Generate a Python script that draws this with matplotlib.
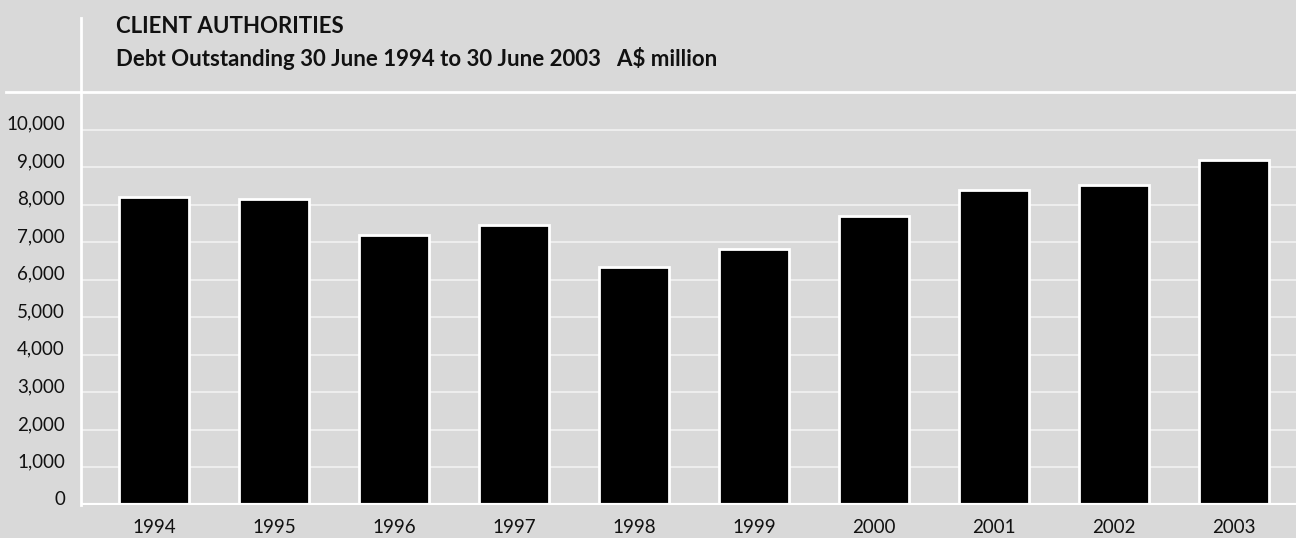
import matplotlib.pyplot as plt
from matplotlib.lines import Line2D

# debt outstanding at 30 June, A$ million
years = ["1994", "1995", "1996", "1997", "1998", "1999", "2000", "2001", "2002", "2003"]
debt = [8210, 8150, 7180, 7470, 6330, 6830, 7700, 8400, 8510, 9200]
yticks = list(range(0, 11000, 1000))

bg = "#d9d9d9"
plt.rcParams["font.family"] = ["Lato", "DejaVu Sans"]

fig = plt.figure(figsize=(12.96, 5.38), dpi=100, facecolor=bg)
W, H = 1296, 538
ax = fig.add_axes([81 / W, (H - 505) / H, 1 - 81 / W, (505 - 92) / H], facecolor=bg)

x = list(range(len(years)))
ax.bar(x, debt, width=70 / 120, color="black", edgecolor="white", linewidth=2, zorder=3)

ax.set_xlim(-(154 - 81) / 120, (1296 - 154) / 120)
ax.set_ylim(0, 11000)
for v in yticks[1:]:
    ax.axhline(v, color="#f2f2f2", linewidth=1.2, zorder=1)
ax.axhline(0, color="white", linewidth=3, zorder=4)

for s in ax.spines.values():
    s.set_visible(False)
ax.set_yticks([])
ax.set_xticks(x)
ax.set_xticklabels(years, fontsize=13.5, color="#111111")
ax.tick_params(axis="x", length=0, pad=10)

# value labels sit on top of their gridline
for v in yticks:
    ax.annotate(f"{v:,}", xy=(0, v), xycoords=ax.get_yaxis_transform(),
                xytext=(-16, 0), textcoords="offset pixels",
                ha="right", va="baseline", fontsize=13.5, color="#111111")

# frame lines: vertical axis running up past the title, top rule across the figure
fig.add_artist(Line2D([81 / W, 81 / W], [(H - 505) / H, (H - 18) / H],
                      color="white", linewidth=2, transform=fig.transFigure))
fig.add_artist(Line2D([6 / W, 1], [(H - 92) / H, (H - 92) / H],
                      color="white", linewidth=2, transform=fig.transFigure))

fig.text(116 / W, (H - 33) / H, "CLIENT AUTHORITIES", fontsize=16,
         fontweight="bold", va="baseline", ha="left", color="#111111")
fig.text(116 / W, (H - 66) / H, "Debt Outstanding 30 June 1994 to 30 June 2003   A$ million",
         fontsize=16, fontweight="bold", va="baseline", ha="left", color="#111111")

fig.savefig("out.png", dpi=100, facecolor=bg)
